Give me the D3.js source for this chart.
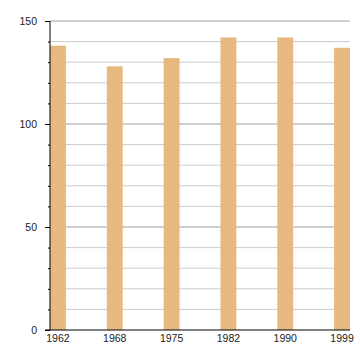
<!DOCTYPE html>
<html>
<head>
<meta charset="utf-8">
<script src="https://cdn.jsdelivr.net/npm/d3@7"></script>
<style>
body { margin: 0; background: #fff; }
</style>
</head>
<body>
<div id="root"></div>
<script>
var width = 360;
var height = 360;

// values
var years = ["1962", "1968", "1975", "1982", "1990", "1999"];
var values = [138, 128, 132, 142, 142, 137];
var majorTicks = [0, 50, 100, 150];
var minorTicks = d3.range(10, 150, 10).filter(function(d) { return d % 50 != 0; });

var margin = {top: 21, right: 10, bottom: 30, left: 50};

var svg = d3.select("#root")
.append("svg")
.attr("width", width)
.attr("height", height)
.style("font-family", "'Liberation Sans', Arial, sans-serif");

var x = d3.scaleBand()
.domain(years)
.range([margin.left, width - margin.right])
.paddingInner(0.72)
.paddingOuter(0);

var y = d3.scaleLinear()
.domain([0, 150])
.range([height - margin.bottom, margin.top]);

/* gridlines: minor light, major darker */
svg.append("g")
.selectAll("line")
.data(minorTicks)
.enter()
.append("line")
.attr("x1", margin.left)
.attr("x2", width - margin.right)
.attr("y1", function(d) { return y(d); })
.attr("y2", function(d) { return y(d); })
.attr("stroke", "#cccccc")
.attr("stroke-width", 1);

svg.append("g")
.selectAll("line")
.data(majorTicks.filter(function(d) { return d > 0; }))
.enter()
.append("line")
.attr("x1", margin.left)
.attr("x2", width - margin.right)
.attr("y1", function(d) { return y(d); })
.attr("y2", function(d) { return y(d); })
.attr("stroke", "#a0a0a0")
.attr("stroke-width", 1);

/* bars */
svg.append("g")
.selectAll("rect")
.data(values)
.enter()
.append("rect")
.attr("x", function(d, i) { return x(years[i]); })
.attr("width", x.bandwidth())
.attr("y", function(d) { return y(d); })
.attr("height", function(d) { return y(0) - y(d); })
.attr("fill", "#e5b97f");

/* y axis with minor ticks */
var yAxis = svg.append("g")
.attr("transform", "translate(" + margin.left + ",0)")
.call(d3.axisLeft(y).tickValues(majorTicks).tickSize(5).tickPadding(8));

svg.append("g")
.attr("transform", "translate(" + margin.left + ",0)")
.call(d3.axisLeft(y).tickValues(minorTicks).tickSize(2).tickFormat(""))
.call(function(g) { g.select(".domain").remove(); });

yAxis.select(".domain").attr("d", "M0," + y(150) + "V" + y(0)).attr("stroke", "#000");

/* x axis */
svg.append("g")
.attr("transform", "translate(0," + y(0) + ")")
.call(d3.axisBottom(x).tickSize(0).tickPadding(5))
.call(function(g) {
	g.select(".domain").attr("d", "M" + (margin.left - 5) + ",0H" + (width - margin.right));
});

svg.selectAll(".tick text")
.attr("font-size", "10.5px")
.attr("fill", "#222")
.attr("font-family", "'Liberation Sans', Arial, sans-serif");
</script>
</body>
</html>
